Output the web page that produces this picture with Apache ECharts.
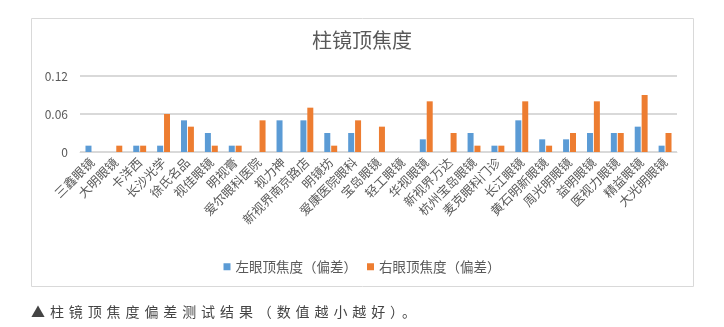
<!DOCTYPE html>
<html>
<head>
<meta charset="utf-8">
<script src="https://cdn.jsdelivr.net/npm/echarts@6/dist/echarts.min.js"></script>
<style>
  html, body { margin: 0; padding: 0; background: #fff; }
  #main { position: absolute; left: 0; top: 0; width: 724px; height: 327px; }
  .caption {
    position: absolute; left: 31px; top: 301px;
    font-family: "Noto Sans CJK SC", sans-serif; font-size: 14px;
    color: #444; letter-spacing: 4.9px; white-space: nowrap;
  }
</style>
</head>
<body>
<div id="main"></div>
<div class="caption">▲柱镜顶焦度偏差测试结果（数值越小越好）。</div>
<script>
// 店名
var shops = ['三鑫眼镜', '大明眼镜', '卡洋西', '长沙光学', '徐氏名品', '视佳眼镜', '明视膏',
  '爱尔眼科医院', '视力神', '新视界南京路店', '明镜坊', '爱康医院眼科', '宝岛眼镜', '轻工眼镜',
  '华视眼镜', '新视界万达', '杭州宝岛眼镜', '麦克眼科门诊', '长江眼镜', '黄石明新眼镜',
  '周光明眼镜', '益明眼镜', '医视力眼镜', '精益眼镜', '大光明眼镜'];
// 左眼 / 右眼 偏差，null = 没有柱子
var leftEye = [0.01, null, 0.01, 0.01, 0.05, 0.03, 0.01, null, 0.05, 0.05, 0.03, 0.03, null, null,
  0.02, null, 0.03, 0.01, 0.05, 0.02, 0.02, 0.03, 0.03, 0.04, 0.01];
var rightEye = [null, 0.01, 0.01, 0.06, 0.04, 0.01, 0.01, 0.05, null, 0.07, 0.01, 0.05, 0.04, null,
  0.08, 0.03, 0.01, 0.01, 0.08, 0.01, 0.03, 0.08, 0.03, 0.09, 0.03];
var yTicks = [0, 0.06, 0.12];

var myChart = echarts.init(document.getElementById('main'));
var font = '"Noto Sans CJK SC", sans-serif';
var option = {
  animation: false,
  textStyle: { fontFamily: font },
  title: {
    text: '柱镜顶焦度',
    left: 'center',
    top: 25,
    textStyle: { fontSize: 20, fontWeight: 'normal', color: '#595959', fontFamily: font }
  },
  graphic: [{
    type: 'rect',
    shape: { x: 31.5, y: 18.5, width: 662, height: 268 },
    style: { fill: 'none', stroke: '#d9d9d9', lineWidth: 1 }
  }],
  legend: {
    data: ['左眼顶焦度（偏差）', '右眼顶焦度（偏差）'],
    left: 'center',
    top: 255,
    icon: 'rect',
    itemWidth: 7,
    itemHeight: 7,
    itemGap: 10,
    textStyle: { fontSize: 13.5, color: '#595959', fontFamily: font }
  },
  grid: { left: 80, right: 47, top: 76, bottom: 175 },
  xAxis: {
    type: 'category',
    data: shops,
    axisLine: { lineStyle: { color: '#d9d9d9', width: 1 } },
    axisTick: { show: false },
    axisLabel: { rotate: 45, interval: 0, fontSize: 12.5, color: '#595959', margin: 8 }
  },
  yAxis: {
    type: 'value',
    min: yTicks[0],
    max: yTicks[2],
    interval: yTicks[1],
    axisLine: { show: false },
    axisTick: { show: false },
    splitLine: { lineStyle: { color: '#d9d9d9', width: 2 } },
    axisLabel: {
      fontSize: 12, color: '#595959', margin: 12,
      formatter: function (v) { return v === 0 ? '0' : v.toFixed(2); }
    }
  },
  series: [
    {
      name: '左眼顶焦度（偏差）',
      type: 'bar',
      data: leftEye,
      barWidth: 6,
      barGap: '15%',
      itemStyle: { color: '#5b9bd5' }
    },
    {
      name: '右眼顶焦度（偏差）',
      type: 'bar',
      data: rightEye,
      barWidth: 6,
      itemStyle: { color: '#ed7d31' }
    }
  ]
};
myChart.setOption(option);
</script>
</body>
</html>
